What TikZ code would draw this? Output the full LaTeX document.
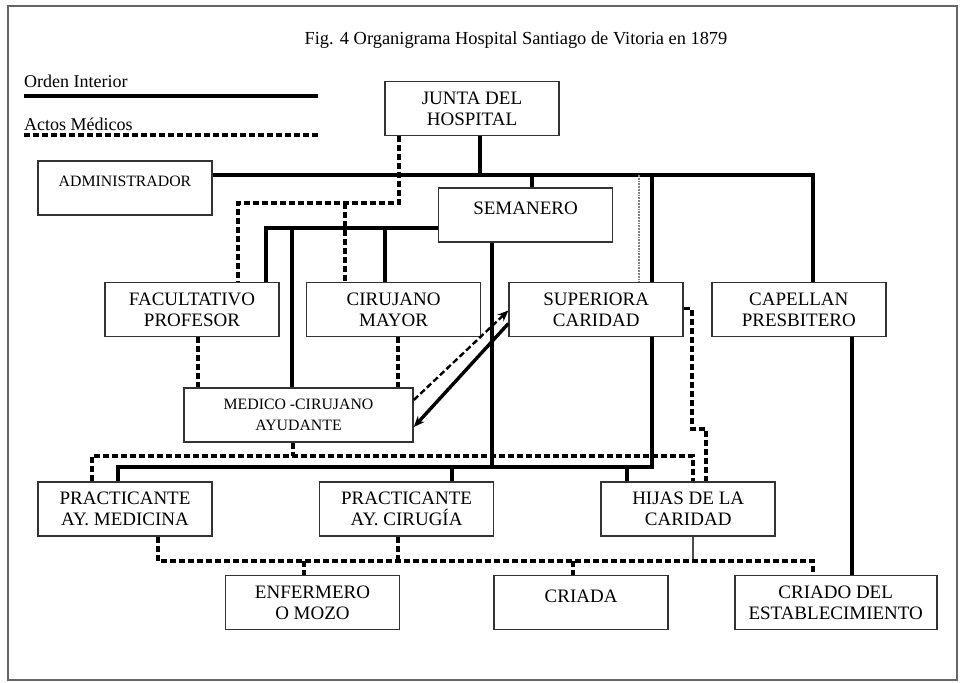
\documentclass[tikz,border=0pt]{standalone}
\usepackage{fontspec}
\setmainfont{Liberation Serif}
\usetikzlibrary{arrows.meta, positioning, calc}

\begin{document}
\begin{tikzpicture}[x=1pt, y=-1pt,
    box/.style={rectangle, draw=black!80, line width=1.6pt, minimum width=174pt, minimum height=54pt, inner sep=2pt, text centered, align=center, font=\fontsize{19}{21}\selectfont},
    onerow/.style={text depth=13pt},
    smalltext/.style={font=\fontsize{15.8}{21}\selectfont},
    orden/.style={line width=3.4pt},
    actos/.style={line width=3.2pt, dash pattern=on 6pt off 3pt},
    arrow/.style={-{Stealth[length=11pt, width=9pt]}},
    node distance=26pt
]
% page and frame
\fill[white] (0,0) rectangle (960,682);
\draw[black!60, line width=1.4pt] (8,6) rectangle (957,680);

% Title and legend
\node[anchor=base, font=\fontsize{18.4}{20}\selectfont] (title) at (516,45) {Fig. 4 Organigrama Hospital Santiago de Vitoria en 1879};
\node[anchor=base west, font=\fontsize{18}{20}\selectfont, inner sep=0pt] (ordentxt) at (24,88) {Orden Interior};
\node[anchor=base west, font=\fontsize{18}{20}\selectfont, inner sep=0pt] (actostxt) at (24,130) {Actos Médicos};
\coordinate (la) at (24,96);
\coordinate (lb) at (318,96);
\coordinate (lc) at (24,135);
\coordinate (ld) at (320,135);
\draw[orden, line width=3.6pt] (la) -- (lb);
\draw[actos] (lc) -- (ld);

% Boxes
\node[box] (junta) at (472,108.5) {JUNTA DEL\\HOSPITAL};
\node[box, onerow, smalltext] (admin) at (125,188) {ADMINISTRADOR};
\node[box, onerow] (semanero) at (525.5,215) {SEMANERO};

\node[box] (facultativo) at (192,309.5) {FACULTATIVO\\PROFESOR};
\node[box, right=of facultativo] (cirujano) {CIRUJANO\\MAYOR};
\node[box, right=27pt of cirujano] (superiora) {SUPERIORA\\CARIDAD};
\node[box, right=27pt of superiora] (capellan) {CAPELLAN\\PRESBITERO};

\node[box, smalltext, minimum width=229pt] (medico) at (298.5,415) {MEDICO -CIRUJANO\\AYUDANTE};

\node[box] (pmed) at (125,509) {PRACTICANTE\\AY. MEDICINA};
\node[box, right=106pt of pmed] (pcir) {PRACTICANTE\\AY. CIRUGÍA};
\node[box, right=106pt of pcir] (hijas) {HIJAS DE LA\\CARIDAD};

\node[box] (enfermero) at (312.5,602.5) {ENFERMERO\\O MOZO};
\node[box, onerow, right=93pt of enfermero] (criada) {CRIADA};
\node[box, minimum width=202pt, right=65pt of criada] (criado) {CRIADO DEL\\ESTABLECIMIENTO};

% Orden interior (solid)
\coordinate (top) at (480,175);
\coordinate (capc) at (813,175);
\coordinate (s1) at (532,175);
\coordinate (s2) at (652,175);
\coordinate (s3) at (639,175);
\draw[orden] (top) -- (top |- junta.south);
\draw[orden] (admin.east |- top) -- (capc) -- (capc |- capellan.north);
\draw[orden] (s1) -- (s1 |- semanero.north);
\draw[orden] (s2) -- (s2 |- superiora.north);
\draw[black!50, line width=1.8pt, densely dotted] (s3) -- (s3 |- superiora.north);

\coordinate (fa) at (266,228);
\coordinate (md) at (292,228);
\coordinate (cm) at (385,228);
\draw[orden] (semanero.west |- fa) -- (fa) -- (fa |- facultativo.north);
\draw[orden] (md) -- (md |- medico.north);
\draw[orden] (cm) -- (cm |- cirujano.north);

\coordinate (pm) at (118,467);
\coordinate (sb) at (492,467);
\coordinate (pc) at (452,467);
\coordinate (hj) at (627,467);
\coordinate (bus) at (652,467);
\draw[orden] (pm |- pmed.north) -- (pm) -- (bus) -- (bus |- superiora.south);
\draw[orden] (sb) -- (sb |- semanero.south);
\draw[orden] (pc) -- (pc |- pcir.north);
\draw[orden] (hj) -- (hj |- hijas.north);

\coordinate (cp) at (852,0);
\draw[orden] (capellan.south -| cp) -- (criado.north -| cp);

\coordinate (low) at (693,561);
\draw[line width=1.2pt, black!70] (low |- hijas.south) -- (low);

% arrows between superiora and medico
\draw[orden, arrow] ([yshift=-14pt]superiora.west) -- ([yshift=-12pt]medico.east);
\draw[actos, line width=2.4pt, arrow] ([yshift=15pt]medico.east) -- ([yshift=-1pt]superiora.west);

% Actos medicos (dashed)
\coordinate (ja) at (399,203);
\coordinate (fd) at (238,203);
\coordinate (cd) at (345,203);
\draw[actos] (ja |- junta.south) -- (ja) -- (fd) -- (fd |- facultativo.north);
\draw[actos] (cd) -- (cd |- cirujano.north);

\coordinate (fm) at (198,0);
\coordinate (cmm) at (398,0);
\draw[actos] (facultativo.south -| fm) -- (medico.north -| fm);
\draw[actos] (cirujano.south -| cmm) -- (medico.north -| cmm);

\coordinate (mb) at (293,456);
\coordinate (ml) at (92,456);
\coordinate (mr) at (693,456);
\draw[actos] (mb |- medico.south) -- (mb);
\draw[actos] (ml |- pmed.north) -- (ml) -- (mr) -- (mr |- hijas.north);

\coordinate (sr1) at (692,429);
\coordinate (sr2) at (706,429);
\draw[actos] ([yshift=1pt]superiora.east) -| (sr1) -- (sr2) -- (sr2 |- hijas.north);

\coordinate (bl) at (158,561);
\coordinate (br) at (813,561);
\coordinate (pcb) at (398,561);
\coordinate (en) at (304,561);
\coordinate (cr) at (573,561);
\draw[actos] (bl |- pmed.south) -- (bl) -- (br) -- (br |- criado.north);
\draw[actos] (pcb |- pcir.south) -- (pcb);
\draw[actos] (en) -- (en |- enfermero.north);
\draw[actos] (cr) -- (cr |- criada.north);
\end{tikzpicture}
\end{document}
